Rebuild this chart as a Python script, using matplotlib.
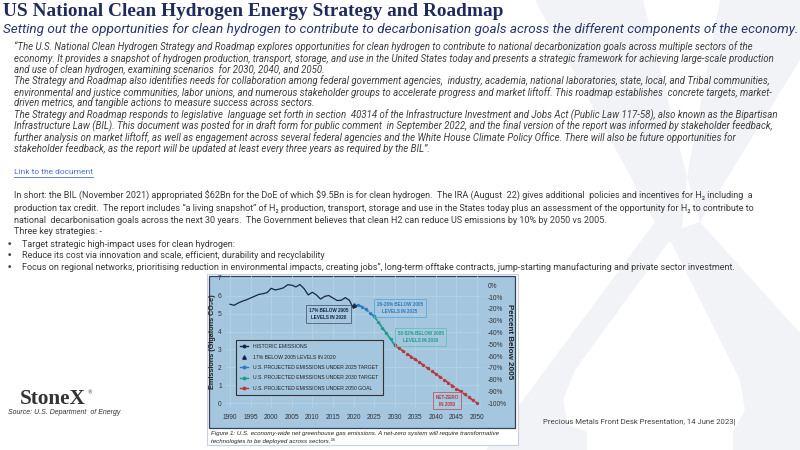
import matplotlib.pyplot as plt
from matplotlib.patches import Rectangle, Polygon
from matplotlib.lines import Line2D

W, H = 800, 450

# ---- slide text ----
title = "US National Clean Hydrogen Energy Strategy and Roadmap"
subtitle = ("Setting out the opportunities for clean hydrogen to contribute to decarbonisation "
            "goals across the different components of the economy.")
quote_lines = [
    "\u201cThe U.S. National Clean Hydrogen Strategy and Roadmap explores opportunities for clean hydrogen to contribute to national decarbonization goals across multiple sectors of the",
    "economy. It provides a snapshot of hydrogen production, transport, storage, and use in the United States today and presents a strategic framework for achieving large-scale production",
    "and use of clean hydrogen, examining scenarios  for 2030, 2040, and 2050.",
    "The Strategy and Roadmap also identifies needs for collaboration among federal government agencies,  industry, academia, national laboratories, state, local, and Tribal communities,",
    "environmental and justice communities, labor unions, and numerous stakeholder groups to accelerate progress and market liftoff. This roadmap establishes  concrete targets, market-",
    "driven metrics, and tangible actions to measure success across sectors.",
    "The Strategy and Roadmap responds to legislative  language set forth in section  40314 of the Infrastructure Investment and Jobs Act (Public Law 117-58), also known as the Bipartisan",
    "Infrastructure Law (BIL). This document was posted for in draft form for public comment  in September 2022, and the final version of the report was informed by stakeholder feedback,",
    "further analysis on market liftoff, as well as engagement across several federal agencies and the White House Climate Policy Office. There will also be future opportunities for",
    "stakeholder feedback, as the report will be updated at least every three years as required by the BIL\u201d.",
]
link_text = "Link to the document"
body_lines = [
    "In short: the BIL (November 2021) appropriated \\$62Bn for the DoE of which \\$9.5Bn is for clean hydrogen.  The IRA (August  22) gives additional  policies and incentives for H\u2082 including  a",
    "production tax credit.  The report includes \u201ca living snapshot\u201d of H\u2082 production, transport, storage and use in the States today plus an assessment of the opportunity for H\u2082 to contribute to",
    "national  decarbonisation goals across the next 30 years.  The Government believes that clean H2 can reduce US emissions by 10% by 2050 vs 2005.",
    "Three key strategies: -",
]
bullets = [
    "Target strategic high-impact uses for clean hydrogen:",
    "Reduce its cost via innovation and scale, efficient, durability and recyclability",
    "Focus on regional networks, prioritising reduction in environmental impacts, creating jobs\u201d, long-term offtake contracts, jump-starting manufacturing and private sector investment.",
]
caption_lines = [
    "Figure 1: U.S. economy-wide net greenhouse gas emissions. A net-zero system will require transformative",
    "technologies to be deployed across sectors.\u00b3\u2075",
]

# ---- chart data (Gigatons CO2e) ----
hist_years = list(range(1990, 2022))
hist_values = [5.53, 5.47, 5.60, 5.70, 5.78, 5.88, 5.98, 6.08, 6.12, 6.18,
               6.42, 6.33, 6.38, 6.45, 6.62, 6.60, 6.50, 6.63, 6.40, 6.05,
               6.20, 6.05, 5.82, 5.97, 6.02, 5.88, 5.74, 5.75, 5.90, 5.75,
               5.30, 5.50]
target_2020_year = 2020
target_2020_value = 5.46
proj_2025_years = [2021, 2022, 2023, 2024, 2025]
proj_2025_values = [5.50, 5.40, 5.25, 5.05, 4.85]
proj_2030_years = [2025, 2026, 2027, 2028, 2029, 2030]
proj_2030_values = [4.85, 4.55, 4.22, 3.90, 3.58, 3.25]
proj_2050_years = list(range(2030, 2051))
proj_2050_values = [3.25, 3.08, 2.92, 2.76, 2.60, 2.44, 2.28, 2.12, 1.95, 1.79,
                    1.63, 1.47, 1.30, 1.14, 0.98, 0.81, 0.65, 0.49, 0.33, 0.16, 0.0]
level_2005 = 6.58
legend_labels = ["HISTORIC EMISSIONS", "17% BELOW 2005 LEVELS IN 2020",
                 "U.S. PROJECTED EMISSIONS UNDER 2025 TARGET",
                 "U.S. PROJECTED EMISSIONS UNDER 2030 TARGET",
                 "U.S. PROJECTED EMISSIONS UNDER 2050 GOAL"]

navy = "#15284c"
blue = "#2c7dbd"
teal = "#1f9c8c"
red = "#b83a3f"
panel = "#a4c6de"


def fx(x):
    return x / W


def fy(y):
    return 1 - y / H


fig = plt.figure(figsize=(8, 4.5), dpi=100)
fig.patch.set_facecolor("white")
renderer = fig.canvas.get_renderer()

# watermark X (light grey)
wm = "#f2f3f6"
for pts in [
    [(535, 0), (643, 0), (687, 177), (682, 228), (655, 222)],
    [(720, 0), (800, 0), (800, 60), (700, 222), (687, 177)],
    [(655, 222), (682, 228), (700, 222), (705, 236), (668, 242)],
    [(655, 222), (670, 240), (575, 370), (563, 400), (568, 425), (587, 432),
     (587, 450), (486, 450)],
    [(700, 222), (800, 333), (800, 450), (733, 450), (733, 432), (745, 410),
     (740, 380), (670, 240)],
]:
    fig.add_artist(Polygon([(fx(a), fy(b)) for a, b in pts], closed=True,
                           transform=fig.transFigure, facecolor=wm, edgecolor="none", zorder=-5))


def fit(t, target):
    w = t.get_window_extent(renderer).width
    t.set_fontsize(t.get_fontsize() * target / w)
    return t.get_fontsize()


t = fig.text(fx(3), fy(12), title, family="Liberation Serif", weight="bold",
             fontsize=15, color="#1f2b5b", va="center")
fit(t, 500)
t = fig.text(fx(3), fy(30), subtitle, family="Roboto", style="italic",
             fontsize=9, color="#26356a", va="center")
fit(t, 794)

# quote block
first = fig.text(fx(14), fy(47), quote_lines[0], family="Roboto", style="italic",
                 fontsize=6, color="#404040", va="center")
qsize = fit(first, 741)
for i, line in enumerate(quote_lines[1:], start=1):
    fig.text(fx(14), fy(47 + 11.3 * i), line, family="Roboto", style="italic",
             fontsize=qsize, color="#404040", va="center")

lt = fig.text(fx(14), fy(172), link_text, family="Roboto", fontsize=6,
              color="#4f6fcf", va="center")
lw_px = lt.get_window_extent(renderer).width
fig.add_artist(Line2D([fx(14), fx(14 + lw_px)], [fy(177), fy(177)],
                      transform=fig.transFigure, color="#4f6fcf", lw=0.6))

first = fig.text(fx(14), fy(196), body_lines[0], family=["Roboto", "DejaVu Sans"],
                 fontsize=6.5, color="#3a3a3a", va="center")
bsize = fit(first, 734)
for i, line in enumerate(body_lines[1:], start=1):
    fig.text(fx(14), fy(196 + 12 * i), line, family=["Roboto", "DejaVu Sans"],
             fontsize=bsize, color="#3a3a3a", va="center")
for i, line in enumerate(bullets):
    y = 244 + 12 * i
    fig.text(fx(7), fy(y), "\u2022", family="DejaVu Sans", fontsize=bsize,
             color="#3a3a3a", va="center")
    fig.text(fx(22), fy(y), line, family=["Roboto", "DejaVu Sans"],
             fontsize=bsize, color="#3a3a3a", va="center")

# logo, source, footer
logo = fig.text(fx(20), fy(399), "StoneX", family="Liberation Serif", weight="bold",
                fontsize=12, color="#333333", va="center")
fit(logo, 66)
fig.text(fx(87), fy(393), "\u00ae", family="DejaVu Sans", fontsize=3.5,
         color="#333333", va="center")
fig.text(fx(8), fy(412), "Source: U.S. Department  of Energy", family="Liberation Sans",
         style="italic", fontsize=5, color="#333333", va="center")
fig.text(fx(543), fy(422), "Precious Metals Front Desk Presentation, 14 June 2023|",
         family="Roboto", fontsize=5.6, color="#444444", va="center")

# ---- embedded figure ----
fig.add_artist(Rectangle((fx(207), fy(445)), (518 - 207) / W, (445 - 274) / H,
                         transform=fig.transFigure, facecolor="white",
                         edgecolor="#c8d2df", lw=0.8, zorder=-2))
fig.add_artist(Rectangle((fx(209), fy(428)), (515 - 209) / W, (428 - 276) / H,
                         transform=fig.transFigure, facecolor=panel,
                         edgecolor="#34425e", lw=0.9, zorder=-1))
for i, line in enumerate(caption_lines):
    fig.text(fx(211), fy(433 + 8 * i), line, family=["Liberation Sans", "DejaVu Sans"],
             style="italic", fontsize=4.4, color="#222222", va="center")

x0, x1 = 1989, 2051
y0, y1 = -0.3, 7.15
px_l, px_r = 225.9, 481.1
px_t, px_b = 275.3, 408.4
ax = fig.add_axes([fx(px_l), fy(px_b), (px_r - px_l) / W, (px_b - px_t) / H])
ax.patch.set_alpha(0)
ax.set_xlim(x0, x1)
ax.set_ylim(y0, y1)
for s in ax.spines.values():
    s.set_visible(False)
ax.set_xticks(range(1990, 2051, 5))
ax.set_yticks(range(0, 8))
ax.tick_params(length=0, labelsize=4.8, labelcolor="#333333", pad=3)
ax.tick_params(axis="x", pad=4)
for lab in ax.get_xticklabels() + ax.get_yticklabels():
    lab.set_family("Liberation Sans")
ax.grid(True, color="#b9d5e8", lw=0.5)
ax.set_axisbelow(True)
ax.set_ylabel("Emissions (Gigatons CO\u2082e)", family=["Liberation Sans", "DejaVu Sans"],
              fontsize=5.2, weight="bold", color="#222222", labelpad=1.5)

ax.plot(hist_years, hist_values, color=navy, lw=0.9, zorder=3)
ax.plot([target_2020_year], [target_2020_value], marker="^", color=navy, ms=2.5, zorder=4)
dash = (0, (3, 1.2))
ax.plot(proj_2025_years, proj_2025_values, color=blue, lw=1.3, ls=dash,
        marker="o", ms=1.4, zorder=3)
ax.plot(proj_2030_years, proj_2030_values, color=teal, lw=1.3, ls=dash,
        marker="o", ms=1.4, zorder=3)
ax.plot(proj_2050_years, proj_2050_values, color=red, lw=1.3, ls=dash,
        marker="o", ms=1.4, zorder=3)

ax2 = ax.twinx()
ax2.set_ylim((y0 / level_2005 - 1) * 100, (y1 / level_2005 - 1) * 100)
ax2.set_yticks(range(-100, 1, 10))
ax2.set_yticklabels([f"{v}%" for v in range(-100, 1, 10)], family="Liberation Sans")
ax2.tick_params(length=0, labelsize=4.8, labelcolor="#333333", pad=5)
for s in ax2.spines.values():
    s.set_visible(False)
ax2.set_ylabel("Percent Below 2005", family="Liberation Sans", fontsize=5.8,
               weight="bold", color="#222222", rotation=270, labelpad=4)

handles = [
    Line2D([], [], color=navy, lw=1, marker="o", ms=1.8),
    Line2D([], [], color=navy, lw=0, marker="^", ms=2.5),
    Line2D([], [], color=blue, lw=1, marker="o", ms=1.8),
    Line2D([], [], color=teal, lw=1, marker="o", ms=1.8),
    Line2D([], [], color=red, lw=1, marker="o", ms=1.8),
]
leg = ax.legend(handles, legend_labels, loc="lower left", bbox_to_anchor=(0.028, 0.078),
                prop={"family": "Liberation Sans", "size": 3.7}, frameon=True,
                facecolor=panel, edgecolor="#333333", framealpha=1, fancybox=False,
                labelspacing=1.05, handlelength=1.5, borderpad=0.9, handletextpad=1.0)
leg.get_frame().set_linewidth(0.8)
for txt in leg.get_texts():
    txt.set_color("#222222")

notes = [
    (2014.0, 4.98, "17% BELOW 2005\nLEVELS IN 2020", navy, "#4d5d75"),
    (2031.3, 5.32, "26-28% BELOW 2005\nLEVELS IN 2025", blue, "#5ea9d8"),
    (2036.3, 3.71, "50-52% BELOW 2005\nLEVELS IN 2030", teal, "#5ec2c0"),
    (2042.7, 0.13, "NET-ZERO\nIN 2050", red, "#c45a5e"),
]
for x, y, s, c, ec in notes:
    ax.text(x, y, s, ha="center", va="center", family="Liberation Sans", fontsize=3.3,
            weight="bold", color=c, linespacing=1.5, zorder=5,
            bbox=dict(boxstyle="square,pad=0.6", fc="none", ec=ec, lw=0.6))

fig.savefig("out.png", dpi=100)
